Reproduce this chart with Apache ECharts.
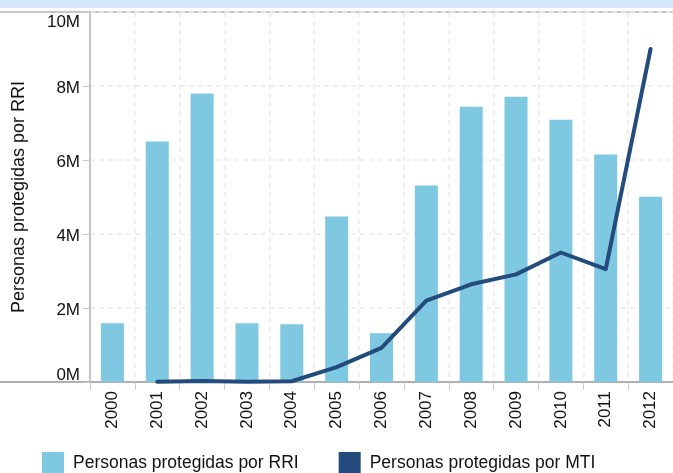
<!DOCTYPE html>
<html>
<head>
<meta charset="utf-8">
<script src="https://cdn.jsdelivr.net/npm/echarts@6/dist/echarts.min.js"></script>
<style>
  html, body { margin: 0; padding: 0; background: #fff; }
  #chart { width: 673px; height: 473px; }
</style>
</head>
<body>
<div id="chart"></div>
<script>
// datos
const years = ['2000', '2001', '2002', '2003', '2004', '2005', '2006', '2007', '2008', '2009', '2010', '2011', '2012'];
const rri = [1.59, 6.5, 7.8, 1.59, 1.56, 4.47, 1.32, 5.31, 7.44, 7.71, 7.09, 6.15, 5.01].map(v => v * 1e6);
const mti = ['-', 0.01, 0.03, 0.01, 0.02, 0.4, 0.92, 2.2, 2.64, 2.91, 3.5, 3.05, 9.0].map(v => v === '-' ? v : v * 1e6);
const yTicks = [0, 2e6, 4e6, 6e6, 8e6, 10e6];

const font = '"Liberation Sans", Arial, sans-serif';

// etiquetas del eje y: la máxima baja, la mínima sube
const yLabel = v => {
  const t = (v / 1e6) + 'M';
  if (v === yTicks[yTicks.length - 1]) return '{top|' + t + '}';
  if (v === yTicks[0]) return '{bot|' + t + '}';
  return '{mid|' + t + '}';
};

const option = {
  animation: false,
  textStyle: { fontFamily: font },
  grid: { left: 90, right: 0, top: 12, bottom: 91, outerBoundsMode: 'none' },
  legend: {
    left: 42,
    top: 452,
    padding: 0,
    itemWidth: 22,
    itemHeight: 22,
    itemGap: 40,
    icon: 'rect',
    textStyle: { fontSize: 17.5, color: '#111', fontFamily: font, padding: [0, 0, 0, 4] },
    data: ['Personas protegidas por RRI', 'Personas protegidas por MTI']
  },
  graphic: [
    { type: 'rect', left: 0, top: 0, shape: { width: 673, height: 8 }, style: { fill: '#d6e7fa' } },
    { type: 'line', shape: { x1: 0, y1: 12, x2: 673, y2: 12 }, style: { stroke: '#b5b5b5', lineWidth: 1.5 } },
    { type: 'line', shape: { x1: 0, y1: 382, x2: 90, y2: 382 }, style: { stroke: '#b0b0b0', lineWidth: 2 } }
  ],
  xAxis: {
    type: 'category',
    data: years,
    axisLine: { lineStyle: { color: '#b0b0b0', width: 2 } },
    axisTick: { show: true, length: 8, lineStyle: { color: '#c8c8c8' } },
    axisLabel: { rotate: 90, fontSize: 17, color: '#111', margin: 9 },
    splitLine: { show: true, lineStyle: { color: '#ececec', type: [5, 4], width: 1.5 } }
  },
  yAxis: {
    type: 'value',
    min: 0,
    max: 10e6,
    interval: 2e6,
    name: 'Personas protegidas por RRI',
    nameLocation: 'middle',
    nameGap: 62,
    nameTextStyle: { fontSize: 18, color: '#111' },
    axisLine: { show: true, lineStyle: { color: '#b5b5b5', width: 1.5 } },
    axisTick: { show: true, length: 7, lineStyle: { color: '#c8c8c8' } },
    axisLabel: {
      fontSize: 17,
      color: '#111',
      margin: 10,
      formatter: yLabel,
      rich: {
        top: { fontSize: 17, color: '#111', padding: [20, 0, 0, 0] },
        mid: { fontSize: 17, color: '#111', padding: [4, 0, 0, 0] },
        bot: { fontSize: 17, color: '#111', padding: [0, 0, 14, 0] }
      }
    },
    splitLine: { show: true, lineStyle: { color: '#ececec', type: [5, 4], width: 1.5 } }
  },
  series: [
    {
      name: 'Personas protegidas por RRI',
      type: 'bar',
      data: rri,
      barWidth: 23,
      itemStyle: { color: '#7ec8e1' }
    },
    {
      name: 'Personas protegidas por MTI',
      type: 'line',
      data: mti,
      showSymbol: false,
      symbol: 'none',
      lineStyle: { color: '#234b7c', width: 4, cap: 'round', join: 'round' },
      itemStyle: { color: '#234b7c' }
    }
  ]
};

const chart = echarts.init(document.getElementById('chart'));
chart.setOption(option);
</script>
</body>
</html>
